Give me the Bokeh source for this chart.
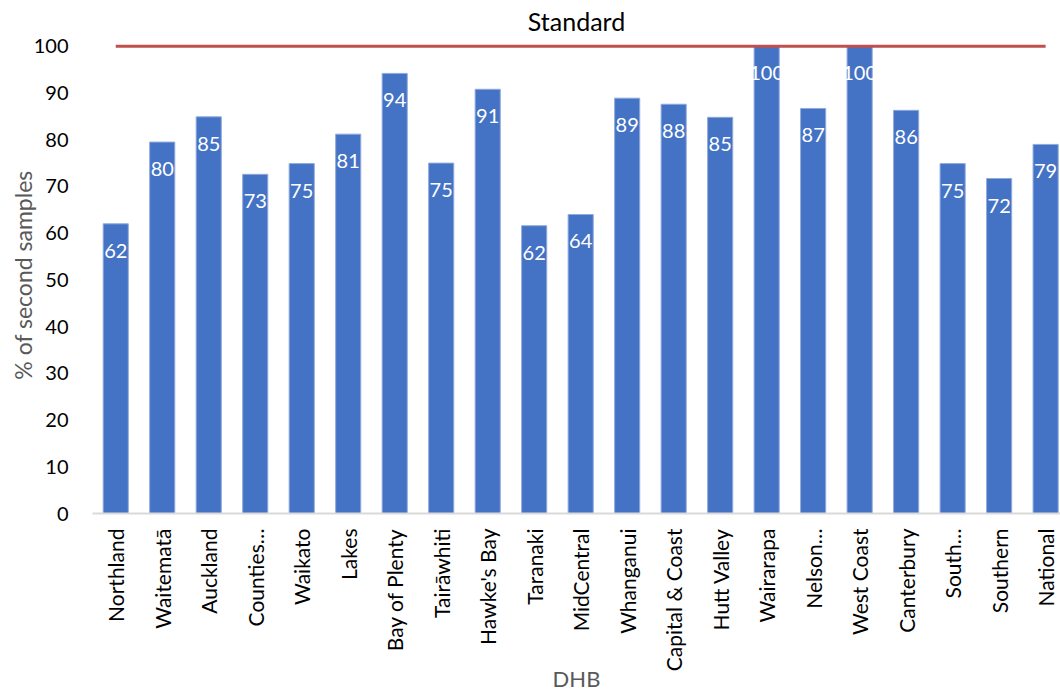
import math
from bokeh.plotting import figure
from bokeh.models import Range1d, FixedTicker, ColumnDataSource
from bokeh.core.properties import value
from bokeh.embed import file_html
from bokeh.resources import INLINE

dhbs = ["Northland", "Waitematā", "Auckland", "Counties…", "Waikato", "Lakes",
        "Bay of Plenty", "Tairāwhiti", "Hawke's Bay", "Taranaki", "MidCentral",
        "Whanganui", "Capital & Coast", "Hutt Valley", "Wairarapa", "Nelson…",
        "West Coast", "Canterbury", "South…", "Southern", "National"]
pct = [62.0, 79.5, 84.9, 72.6, 74.9, 81.2, 94.2, 75.0, 90.8, 61.6, 64.0,
       88.9, 87.6, 84.8, 100.0, 86.7, 100.0, 86.3, 74.9, 71.7, 79.0]
standard = [100] * len(dhbs)
y_ticks = list(range(0, 101, 10))

FONT = "Lato"

xs = list(range(len(dhbs)))
labels = [str(int(v + 0.5)) for v in pct]
src = ColumnDataSource(dict(x=xs, pct=pct, lbl=labels, std=standard))

p = figure(width=1060, height=695, output_backend="svg", toolbar_location=None,
           x_range=Range1d(-0.5, 20.32), y_range=Range1d(0, 102.1),
           min_border_left=92, min_border_right=0, min_border_top=36,
           min_border_bottom=182, title="Standard")

p.title.align = "center"
p.title.text_font = FONT
p.title.text_font_size = "25px"
p.title.text_font_style = "normal"
p.title.text_color = "#000000"
p.title.standoff = 2
p.title.offset = -4

p.outline_line_color = None
p.xgrid.grid_line_color = None
p.ygrid.grid_line_color = None
p.background_fill_color = "white"
p.border_fill_color = "white"

p.vbar(x="x", top="pct", width=0.54, source=src, fill_color="#4472C4",
       line_color="#8FAADC", line_width=1)
p.line(x="x", y="std", source=src, line_color="#C0504D", line_width=3)
p.text(x="x", y="pct", text="lbl", source=src, text_color="white",
       text_align="center", text_baseline="middle", y_offset=27,
       text_font=value(FONT), text_font_size="20px")

xa = p.xaxis[0]
xa.ticker = FixedTicker(ticks=xs)
xa.major_label_overrides = {i: n for i, n in enumerate(dhbs)}
xa.major_label_orientation = math.pi / 2
xa.axis_line_color = "#D9D9D9"
xa.axis_line_width = 2
xa.major_tick_line_color = None
xa.minor_tick_line_color = None
xa.major_tick_out = 0
xa.major_tick_in = 0
xa.major_label_standoff = 15
xa.major_label_text_font = FONT
xa.major_label_text_font_size = "21px"
xa.major_label_text_color = "#000000"
xa.axis_label = "DHB"
xa.axis_label_text_font = FONT
xa.axis_label_text_font_size = "22px"
xa.axis_label_text_font_style = "normal"
xa.axis_label_text_color = "#595959"
xa.axis_label_standoff = -9

ya = p.yaxis[0]
ya.ticker = FixedTicker(ticks=y_ticks)
ya.axis_line_color = None
ya.major_tick_line_color = None
ya.minor_tick_line_color = None
ya.major_tick_out = 0
ya.major_tick_in = 0
ya.major_label_standoff = 24
ya.major_label_text_font = FONT
ya.major_label_text_font_size = "20px"
ya.major_label_text_color = "#000000"
ya.axis_label = "% of second samples"
ya.axis_label_text_font = FONT
ya.axis_label_text_font_size = "23px"
ya.axis_label_text_font_style = "normal"
ya.axis_label_text_color = "#595959"
ya.axis_label_standoff = -6

open("out.html", "w").write(file_html(p, INLINE))
